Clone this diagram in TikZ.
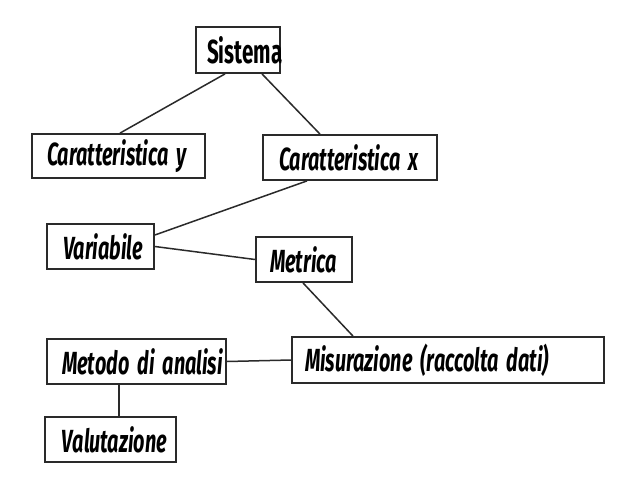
\documentclass[tikz,border=0pt]{standalone}
\usepackage{fontspec}
\newfontfamily\agency[FakeStretch=0.62,WordSpace=1.8]{Fira Sans}
\definecolor{ink}{HTML}{2A2A2A}
\begin{document}
\begin{tikzpicture}[x=1pt,y=-1pt,
  box/.style={draw=ink, line width=1.8pt, inner sep=0pt, fill=white, text=black},
  lbl/.style={font=\agency\bfseries\itshape\fontsize{32}{36}\selectfont},
  lblup/.style={font=\agency\bfseries\fontsize{33.3}{36}\selectfont},
  conn/.style={draw=ink, line width=1.5pt}]
\fill[white] (0,0) rectangle (627,477);
\useasboundingbox (0,0) rectangle (627,477);
% boxes
\node[box, lblup, minimum height=46pt] (sis) at (238,50) {\makebox[84pt][l]{\hspace*{11pt}Sistema}};
\node[box, lbl, minimum height=44pt] (cy) at (118.5,156) {\makebox[173pt][l]{\hspace*{15pt}Caratteristica y}};
\node[box, lbl, minimum height=45pt] (cx) at (350,157.5) {\makebox[174pt][l]{\hspace*{16pt}Caratteristica x}};
\node[box, lbl, minimum height=45pt] (var) at (100.5,246.5) {\makebox[107pt][l]{\hspace*{16pt}Variabile}};
\node[box, lbl, minimum height=45pt] (met) at (304,259.5) {\makebox[96pt][l]{\hspace*{14pt}Metrica}};
\node[box, lbl, minimum height=45pt] (mdo) at (136.5,361.5) {\makebox[179pt][l]{\hspace*{15pt}Metodo di analisi}};
\node[box, lbl, minimum height=46pt] (mis) at (448,360) {\makebox[312pt][l]{\hspace*{13pt}Misurazione (raccolta dati)}};
\node[box, lbl, minimum height=45pt] (val) at (110.5,439.5) {\makebox[131pt][l]{\hspace*{17pt}Valutazione}};
% connectors
\draw[conn] ([xshift=-13pt]sis.south) -- ([xshift=1.5pt]cy.north);
\draw[conn] ([xshift=24pt]sis.south) -- ([xshift=-30pt]cx.north);
\draw[conn] ([xshift=-43pt]cx.south) -- ([yshift=11.5pt]var.east);
\draw[conn] (var.east) -- (met.west);
\draw[conn] ([xshift=-1pt]met.south) -- ([xshift=-95pt]mis.north);
\draw[conn] (mdo.east) -- (mis.west);
\draw[conn] ([xshift=-17.5pt]mdo.south) -- ([xshift=8.5pt]val.north);
\end{tikzpicture}
\end{document}
